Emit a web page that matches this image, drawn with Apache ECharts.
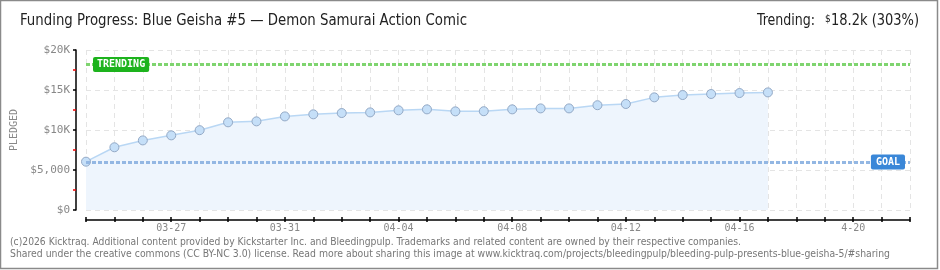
<!DOCTYPE html>
<html><head><meta charset="utf-8">
<script src="https://cdn.jsdelivr.net/npm/echarts@6/dist/echarts.min.js"></script>
<style>html,body{margin:0;padding:0;background:#fff}#c{width:940px;height:270px}</style>
</head><body><div id="c"></div>
<script>
var categories = ['03-24','03-25','03-26','03-27','03-28','03-29','03-30','03-31','04-01','04-02','04-03','04-04','04-05','04-06','04-07','04-08','04-09','04-10','04-11','04-12','04-13','04-14','04-15','04-16','04-17','04-18','04-19','04-20','04-21','04-22'];
var tickLabels = {3:'03-27',7:'03-31',11:'04-04',15:'04-08',19:'04-12',23:'04-16',27:'4-20'};
var pledged = [6040,7840,8700,9330,9980,10960,11080,11700,11960,12120,12200,12460,12580,12330,12350,12580,12700,12700,13100,13250,14080,14370,14500,14620,14700];
var goal = 6000;
var trending = 18200;
var yTicks = {0:'$0',5000:'$5,000',10000:'$10K',15000:'$15K',20000:'$20K'};
var titleText = 'Funding Progress: Blue Geisha #5 \u2014 Demon Samurai Action Comic';
var footer1 = '(c)2026 Kicktraq. Additional content provided by Kickstarter Inc. and Bleedingpulp. Trademarks and related content are owned by their respective companies.';
var footer2 = 'Shared under the creative commons (CC BY-NC 3.0) license. Read more about sharing this image at www.kicktraq.com/projects/bleedingpulp/bleeding-pulp-presents-blue-geisha-5/#sharing';

var pix = "'DejaVu Sans Mono', monospace";
var narrow = "'Liberation Sans Narrow', 'DejaVu Sans Condensed', 'Roboto', sans-serif";
var mctx = document.createElement('canvas').getContext('2d');
function fit(text, font, w){ mctx.font = font; return w / mctx.measureText(text).width; }
function stretched(text, font, x, y, w, fill){
  return {type:'text', x:x, y:y, scaleX:fit(text, font, w), style:{text:text, font:font, fill:fill}};
}
var tFont = "16px " + narrow;
var fFont = "11px " + narrow;

var chart = echarts.init(document.getElementById('c'), null, {renderer:'canvas'});
chart.setOption({
  backgroundColor:'#fff',
  animation:false,
  graphic:[
    {type:'rect', shape:{x:0.5,y:0.5,width:937,height:268}, style:{fill:'none',stroke:'#8a8a8a',lineWidth:1.5}, z:100},
    stretched(titleText, tFont, 20, 13, 447, '#222'),
    stretched('Trending:', tFont, 757, 13, 58, '#222'),
    {type:'text', x:825, y:14, style:{text:'$', font:"10px " + narrow, fill:'#222'}},
    stretched('18.2k (303%)', tFont, 831, 13, 88, '#222'),
    stretched(footer1, fFont, 10, 237, 731, '#777'),
    stretched(footer2, fFont, 10, 249, 880, '#777')
  ],
  grid:{left:86, right:30, top:50, bottom:60, containLabel:false},
  xAxis:[{
    type:'category', data:categories, boundaryGap:false, offset:10,
    axisLine:{onZero:false, lineStyle:{color:'#000',width:1.5}},
    axisTick:{show:true, interval:0, length:2, lineStyle:{color:'#000',width:1.5}},
    axisLabel:{interval:0, margin:3, color:'#888', fontFamily:pix, fontSize:10,
      formatter:function(v,i){return tickLabels[i]||'';}},
    splitLine:{show:true, interval:0, lineStyle:{color:'#e4e4e4', type:[5,4]}}
  },{
    type:'category', data:categories, boundaryGap:false, offset:10, position:'bottom',
    axisLine:{show:false, onZero:false},
    axisTick:{show:true, inside:true, interval:0, length:3, lineStyle:{color:'#000',width:1.5}},
    axisLabel:{show:false}, splitLine:{show:false}
  }],
  yAxis:{
    type:'value', min:0, max:20000, interval:5000, offset:10,
    name:'PLEDGED', nameLocation:'middle', nameRotate:90, nameGap:50,
    nameTextStyle:{color:'#888', fontFamily:pix, fontSize:10},
    axisLine:{show:true, lineStyle:{color:'#000',width:1.5}},
    axisTick:{show:true, length:3, lineStyle:{color:'#000',width:1.5}},
    minorTick:{show:true, splitNumber:2, length:3, lineStyle:{color:'#e00',width:1.5}},
    axisLabel:{margin:6, color:'#888', fontFamily:pix, fontSize:11, formatter:function(v){return yTicks[v]||'';}},
    splitLine:{show:true, lineStyle:{color:'#e4e4e4', type:[5,4]}}
  },
  series:[{
    type:'line', data:pledged, symbol:'circle', symbolSize:9, z:2,
    lineStyle:{color:'#b9d7f4', width:1.5},
    itemStyle:{color:'#c5dff8', borderColor:'#93a9c6', borderWidth:1},
    areaStyle:{color:'#eef5fd', opacity:1},
    markLine:{
      symbol:'none', silent:true, animation:false, z:4,
      data:[
        [{coord:[0,trending], lineStyle:{color:'#7fd46f', width:3, type:[4,2]},
          label:{show:true, formatter:'TRENDING', position:'insideStart', distance:[7,0], align:'left', verticalAlign:'middle',
            color:'#fff', backgroundColor:'#1db31d', padding:[3,4,2,4], borderRadius:2, fontFamily:pix, fontSize:10, fontWeight:'bold'}},
         {coord:[29,trending]}],
        [{coord:[0,goal], lineStyle:{color:'#93b7e3', width:3, type:[4,2]},
          label:{show:true, formatter:'GOAL', position:'insideEnd', distance:[5,0], align:'right', verticalAlign:'middle',
            color:'#fff', backgroundColor:'#3a87d8', padding:[3,5,2,5], borderRadius:2, fontFamily:pix, fontSize:10, fontWeight:'bold'}},
         {coord:[29,goal]}]
      ]
    }
  }]
});
</script></body></html>
